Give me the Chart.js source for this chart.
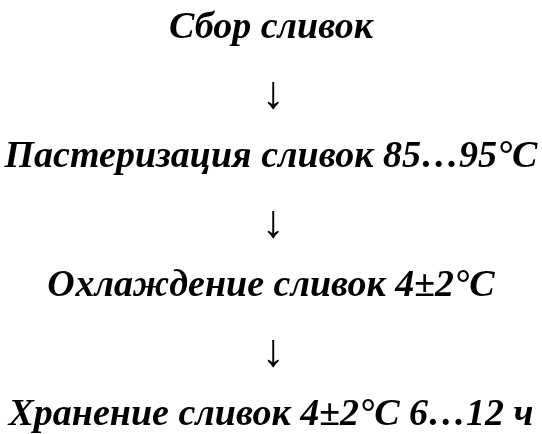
<!DOCTYPE html>
<html>
<head>
<meta charset="utf-8">
<script src="https://cdn.jsdelivr.net/npm/chart.js@4/dist/chart.umd.min.js"></script>
<style>
  html, body { margin: 0; padding: 0; background: #fff; }
  #wrap { width: 542px; height: 434px; }
</style>
</head>
<body>
<div id="wrap"><canvas id="flow"></canvas></div>
<script>
const steps = [
    'Сбор сливок',
    'Пастеризация сливок 85…95°C',
    'Охлаждение сливок 4±2°C',
    'Хранение сливок 4±2°C 6…12 ч'
];
const arrow = '↓';

// steps and arrows go one under another
const rows = [];
steps.forEach((s, i) => {
    rows.push({text: s, isArrow: false});
    if (i < steps.length - 1) rows.push({text: arrow, isArrow: true});
});

const rowLabels = rows.map(r => r.text);
const rowPos = rows.map((r, i) => i);

const textPlugin = {
    id: 'flowText',
    afterDatasetsDraw(chart) {
        const ctx = chart.ctx;
        const meta = chart.getDatasetMeta(0);
        ctx.save();
        ctx.fillStyle = '#000';
        ctx.textAlign = 'center';
        ctx.textBaseline = 'alphabetic';
        meta.data.forEach((pt, i) => {
            const row = rows[i];
            if (row.isArrow) {
                ctx.font = '46px "Liberation Serif"';
                ctx.fillText(row.text, pt.x + 2, pt.y + 18);
            } else {
                ctx.font = 'italic bold 38px "Liberation Serif"';
                ctx.fillText(row.text, pt.x, pt.y + 12);
            }
        });
        ctx.restore();
    }
};

new Chart(document.getElementById('flow'), {
    type: 'scatter',
    data: {
        labels: rowLabels,
        datasets: [{
            data: rowPos.map(p => ({x: 0, y: p})),
            pointRadius: 0,
            pointHoverRadius: 0
        }]
    },
    options: {
        responsive: true,
        maintainAspectRatio: false,
        animation: false,
        layout: {padding: 0},
        plugins: {legend: {display: false}, tooltip: {enabled: false}},
        scales: {
            x: {display: false, min: -1, max: 1},
            y: {display: false, reverse: true, min: -0.4, max: 6.33}
        }
    },
    plugins: [textPlugin]
});
</script>
</body>
</html>
